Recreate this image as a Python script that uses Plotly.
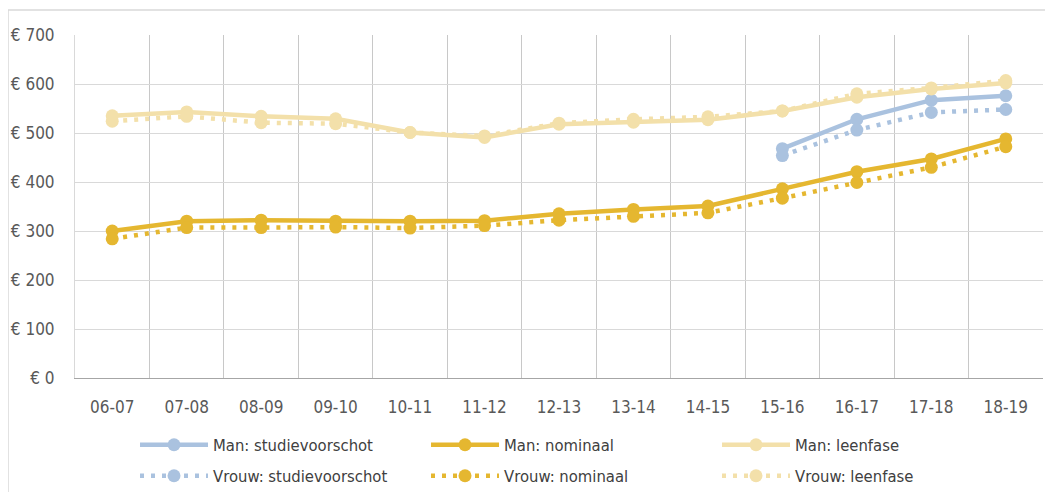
import plotly.graph_objects as go

years = ["06-07", "07-08", "08-09", "09-10", "10-11", "11-12", "12-13",
         "13-14", "14-15", "15-16", "16-17", "17-18", "18-19"]

man_studievoorschot = [None]*9 + [468, 528, 567, 576]
vrouw_studievoorschot = [None]*9 + [454, 506, 542, 548]
man_nominaal = [300, 320, 322, 320, 320, 321, 335, 344, 351, 386, 421, 447, 488]
vrouw_nominaal = [284, 307, 307, 308, 306, 311, 322, 330, 337, 367, 399, 430, 472]
man_leenfase = [535, 543, 534, 529, 501, 491, 518, 522, 527, 545, 573, 590, 602]
vrouw_leenfase = [524, 534, 521, 519, 501, 494, 520, 528, 533, 545, 580, 592, 607]

y_ticks = [0, 100, 200, 300, 400, 500, 600, 700]

BLUE = "#AAC2DF"
GOLD = "#E5B730"
LIGHT = "#F3E0AA"
FONT = "DejaVu Sans Condensed"

series = [
    ("Man: studievoorschot", man_studievoorschot, BLUE, "solid", "legend"),
    ("Man: nominaal", man_nominaal, GOLD, "solid", "legend"),
    ("Man: leenfase", man_leenfase, LIGHT, "solid", "legend"),
    ("Vrouw: studievoorschot", vrouw_studievoorschot, BLUE, "4px,7px", "legend2"),
    ("Vrouw: nominaal", vrouw_nominaal, GOLD, "4px,7px", "legend2"),
    ("Vrouw: leenfase", vrouw_leenfase, LIGHT, "4px,7px", "legend2"),
]

fig = go.Figure()
for name, vals, color, dash, leg in series:
    fig.add_trace(go.Scatter(
        x=years, y=vals, name=name, mode="lines+markers",
        line=dict(color=color, width=4.5, dash=dash),
        marker=dict(color=color, size=13),
        legend=leg, connectgaps=False,
    ))

H = 492
leg_common = dict(orientation="h", xanchor="left", yanchor="middle",
                  entrywidth=208, entrywidthmode="pixels", itemwidth=68,
                  font=dict(family=FONT, size=16.5, color="#404040"),
                  bgcolor="rgba(0,0,0,0)", yref="container", xref="paper")

fig.update_layout(
    width=1053, height=H,
    margin=dict(l=67, r=18, t=27, b=122, autoexpand=False),
    paper_bgcolor="white", plot_bgcolor="white",
    font=dict(family=FONT, size=17, color="#595959"),
    showlegend=True,
    legend=dict(x=0.062, y=1 - 437/H, **leg_common),
    legend2=dict(x=0.062, y=1 - 468/H, **leg_common),
    shapes=[dict(type="rect", xref="paper", yref="paper",
                 x0=-0.0692, x1=1.2, y0=-0.5, y1=1.0729,
                 line=dict(color="#D9D9D9", width=1.5), fillcolor="rgba(0,0,0,0)",
                 layer="below")],
)
fig.update_xaxes(type="category", tickson="boundaries", showgrid=True,
                 gridcolor="#C8C8C8", gridwidth=1, showline=True,
                 linecolor="#A6A6A6", linewidth=1, ticks="", ticklabelstandoff=14,
                 mirror=False, range=[-0.5, 12.5])
fig.update_yaxes(range=[0, 700], tickvals=y_ticks, ticktext=[f"€ {v}" for v in y_ticks],
                 showgrid=True, gridcolor="#D9D9D9", gridwidth=1,
                 showline=True, linecolor="#D9D9D9", ticks="", ticklabelstandoff=16,
                 zeroline=True, zerolinecolor="#A6A6A6", zerolinewidth=1)

fig.write_html("out.html")
